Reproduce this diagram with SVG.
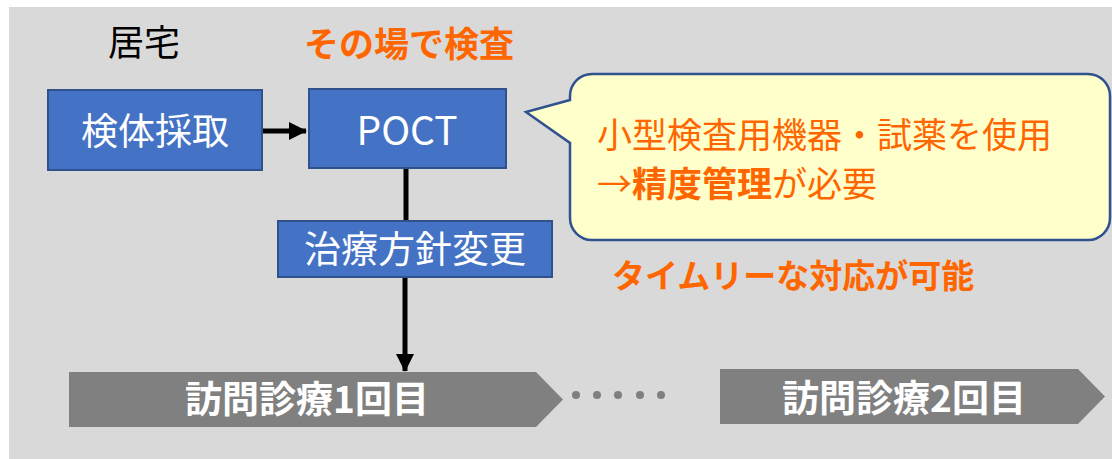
<svg xmlns="http://www.w3.org/2000/svg" width="1112" height="459" viewBox="0 0 1112 459">
<style>
text{font-family:"Noto Sans CJK JP","Noto Sans",sans-serif}
.box{fill:#4472C4;stroke:#2F528F;stroke-width:2}
.wt{fill:#FFFFFF;text-anchor:middle}
.or{fill:#FF6600}
.b{font-weight:bold}
.chev{fill:#808080}
.ln{stroke:#000;stroke-width:5;fill:none}
</style>
<defs>
<marker id="ah" markerWidth="4" markerHeight="4" refX="3.4" refY="2" orient="auto" markerUnits="strokeWidth"><path d="M0,0.2 L3.6,2 L0,3.8 Z" fill="#000"/></marker>
</defs>
<rect x="0" y="0" width="1112" height="459" fill="#FFFFFF"/>
<rect x="9" y="7" width="1103" height="452" fill="#D9D9D9"/>
<text x="108" y="56" font-size="36" fill="#000">居宅</text>
<text x="304" y="57" font-size="35" class="or b">その場で検査</text>
<g id="connectors">
<line class="ln" x1="262" y1="131" x2="306" y2="131" marker-end="url(#ah)"/>
<line class="ln" x1="406" y1="169" x2="406" y2="222"/>
<line class="ln" x1="405" y1="277" x2="405" y2="371" marker-end="url(#ah)"/>
</g>
<g id="n-kentai">
<rect class="box" x="48" y="90" width="214" height="80"/>
<text class="wt" x="155" y="145" font-size="37">検体採取</text>
</g>
<g id="n-poct">
<rect class="box" x="309" y="89" width="197" height="79"/>
<text class="wt" x="407" y="145" font-size="39">POCT</text>
</g>
<g id="n-chiryo">
<rect class="box" x="278" y="221" width="274" height="56"/>
<text class="wt" x="415" y="263" font-size="37">治療方針変更</text>
</g>
<g id="n-callout">
<path d="M592,74 H1088 A22,22 0 0 1 1110,96 V218 A22,22 0 0 1 1088,240 H592 A22,22 0 0 1 570,218 V143 L526,112 L570,100 V96 A22,22 0 0 1 592,74 Z" fill="#FFFFCC" stroke="#2F528F" stroke-width="2.5"/>
<text x="597" y="148" font-size="35" class="or">小型検査用機器・試薬を使用</text>
<text x="597" y="197" font-size="35" class="or"><tspan textLength="35" lengthAdjust="spacingAndGlyphs">→</tspan><tspan class="b">精度管理</tspan>が必要</text>
</g>
<text x="612" y="288" font-size="33" class="or b">タイムリーな対応が可能</text>
<g id="n-visit1">
<polygon class="chev" points="69,372 536,372 563,399.5 536,427 69,427"/>
<text class="wt b" x="307" y="412.5" font-size="37">訪問診療1回目</text>
</g>
<g id="dots" fill="#808080">
<circle cx="576" cy="395" r="4"/>
<circle cx="597" cy="395" r="4"/>
<circle cx="618" cy="395" r="4"/>
<circle cx="640" cy="395" r="4"/>
<circle cx="661" cy="395" r="4"/>
</g>
<g id="n-visit2">
<polygon class="chev" points="720,369 1078,369 1105,396.5 1078,424 720,424"/>
<text class="wt b" x="904" y="411.5" font-size="37">訪問診療2回目</text>
</g>
</svg>
